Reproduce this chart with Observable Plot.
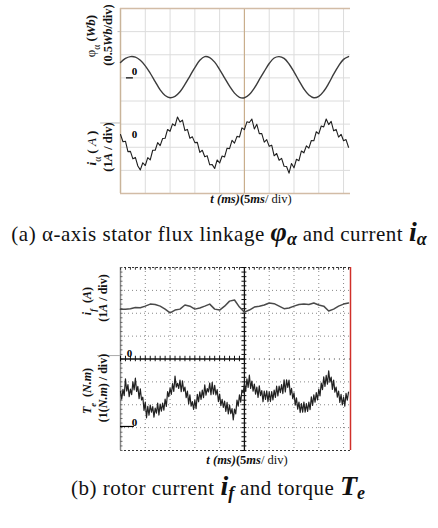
<!DOCTYPE html>
<html><head><meta charset="utf-8">
<script src="https://cdn.jsdelivr.net/npm/d3@7"></script>
<script src="https://cdn.jsdelivr.net/npm/@observablehq/plot@0.6"></script>
<style>
body{margin:0;background:#fff;}
#wrap{position:relative;width:438px;height:528px;overflow:hidden;font-family:"Liberation Serif","Times New Roman",serif;background:#fff;}
.panel{position:absolute;left:0;}
.cap{position:absolute;left:0;width:438px;text-align:center;font-size:21px;line-height:28px;color:#111;white-space:nowrap;letter-spacing:0.5px;}
.sym{font-weight:bold;font-style:italic;font-size:28px;letter-spacing:0;}
.sym sub{font-size:18px;vertical-align:-4px;}
</style></head><body><div id="wrap"></div>
<script>
// ---------- data ----------
// panel (a): time (ms) for flux samples, 1 ms step
const phiTime = [0,1,2,3,4,5,6,7,8,9,10,11,12,13,14,15,16,17,18,19,20,21,22,23,24,25,26,27,28,29,30,31,32,33,34,35,36,37,38,39,40,41,42,43,44,45,46];
// alpha-axis stator flux linkage (Wb)
const phiAlpha = [0.33,0.42,0.46,0.45,0.38,0.26,0.10,-0.08,-0.26,-0.38,-0.43,-0.40,-0.30,-0.14,0.04,0.22,0.38,0.46,0.44,0.34,0.18,0.00,-0.18,-0.33,-0.42,-0.43,-0.36,-0.22,-0.04,0.14,0.31,0.43,0.46,0.42,0.30,0.13,-0.06,-0.24,-0.37,-0.43,-0.40,-0.29,-0.12,0.08,0.26,0.40,0.46];
// time (ms) for the alpha current, 0.5 ms step
const iaTime = [0,0.5,1,1.5,2,2.5,3,3.5,4,4.5,5,5.5,6,6.5,7,7.5,8,8.5,9,9.5,10,10.5,11,11.5,12,12.5,13,13.5,14,14.5,15,15.5,16,16.5,17,17.5,18,18.5,19,19.5,20,20.5,21,21.5,22,22.5,23,23.5,24,24.5,25,25.5,26,26.5,27,27.5,28,28.5,29,29.5,30,30.5,31,31.5,32,32.5,33,33.5,34,34.5,35,35.5,36,36.5,37,37.5,38,38.5,39,39.5,40,40.5,41,41.5,42,42.5,43,43.5,44,44.5,45,45.5,46];
// alpha-axis stator current (A)
const iAlpha = [0.40,0.09,0.11,-0.34,-0.33,-0.65,-0.59,-0.96,-1.13,-0.82,-0.94,-0.60,-0.70,-0.28,-0.28,0.05,-0.08,0.23,0.24,0.62,0.54,0.86,0.78,1.16,0.94,1.02,0.57,0.62,0.24,0.30,0.05,0.06,-0.37,-0.28,-0.56,-0.52,-0.91,-0.90,-1.07,-0.70,-0.83,-0.53,-0.57,-0.19,-0.21,0.15,0.03,0.32,0.29,0.69,0.61,0.95,0.92,1.07,0.64,0.84,0.44,0.44,0.07,0.18,-0.11,-0.06,-0.52,-0.42,-0.71,-0.63,-0.97,-0.98,-1.27,-0.85,-1.04,-0.67,-0.73,-0.31,-0.39,-0.09,-0.19,0.14,0.13,0.52,0.43,0.77,0.73,1.07,0.83,0.97,0.56,0.62,0.29,0.41,0.13,0.18,-0.15];
// panel (b): rotor current (A), 1 ms step (same times as phiTime)
const iRotor = [2.17,2.18,2.20,2.25,2.24,2.31,2.40,2.38,2.31,2.18,2.02,2.14,2.18,2.36,2.31,2.18,2.23,2.31,2.40,2.18,2.14,2.31,2.53,2.58,2.27,2.05,2.14,2.27,2.31,2.36,2.45,2.42,2.31,2.20,2.23,2.31,2.38,2.40,2.38,2.45,2.36,2.31,2.10,2.18,2.31,2.40,2.45];
// time (ms) for the torque, 0.25 ms step
const teTime = [0,0.25,0.5,0.75,1,1.25,1.5,1.75,2,2.25,2.5,2.75,3,3.25,3.5,3.75,4,4.25,4.5,4.75,5,5.25,5.5,5.75,6,6.25,6.5,6.75,7,7.25,7.5,7.75,8,8.25,8.5,8.75,9,9.25,9.5,9.75,10,10.25,10.5,10.75,11,11.25,11.5,11.75,12,12.25,12.5,12.75,13,13.25,13.5,13.75,14,14.25,14.5,14.75,15,15.25,15.5,15.75,16,16.25,16.5,16.75,17,17.25,17.5,17.75,18,18.25,18.5,18.75,19,19.25,19.5,19.75,20,20.25,20.5,20.75,21,21.25,21.5,21.75,22,22.25,22.5,22.75,23,23.25,23.5,23.75,24,24.25,24.5,24.75,25,25.25,25.5,25.75,26,26.25,26.5,26.75,27,27.25,27.5,27.75,28,28.25,28.5,28.75,29,29.25,29.5,29.75,30,30.25,30.5,30.75,31,31.25,31.5,31.75,32,32.25,32.5,32.75,33,33.25,33.5,33.75,34,34.25,34.5,34.75,35,35.25,35.5,35.75,36,36.25,36.5,36.75,37,37.25,37.5,37.75,38,38.25,38.5,38.75,39,39.25,39.5,39.75,40,40.25,40.5,40.75,41,41.25,41.5,41.75,42,42.25,42.5,42.75,43,43.25,43.5,43.75,44,44.25,44.5,44.75,45,45.25,45.5,45.75,46];
// electromagnetic torque (N.m)
const torque = [1.57,1.25,1.67,1.40, 2.13,1.60,1.88,1.35, 1.68,1.44,2.00,1.65, 2.16,1.58,1.80,1.27, 1.69,1.21,1.33,0.75, 1.12,0.43,0.93,0.54, 0.99,0.68,0.92,0.46, 0.85,0.63,1.07,0.55, 1.03,0.72,1.07,0.76, 1.25,0.93,1.57,1.35, 1.73,1.45,1.92,1.58, 2.25,1.77,1.94,1.71, 2.08,1.57,2.05,1.59, 1.77,1.31,1.60,1.04, 1.43,0.94,1.14,0.80, 1.20,0.83,1.46,1.13, 1.56,1.23,1.64,1.31, 1.87,1.42,1.71,1.56, 1.95,1.44,1.98,1.46, 1.85,1.43,1.66,1.14, 1.47,0.96,1.24,0.88, 1.16,0.71,1.10,0.60, 0.99,0.61,0.83,0.34, 0.81,0.60,1.20,0.94, 1.43,1.11,1.64,1.52, 1.90,1.59,2.13,1.76, 2.30,1.71,2.03,1.59, 1.90,1.46,1.77,1.32, 1.83,1.40,1.62,1.13, 1.60,1.23,1.61,1.13, 1.56,1.14,1.58,1.21, 1.64,1.32,1.81,1.39, 1.82,1.53,1.88,1.49, 2.09,1.56,2.09,1.76, 2.08,1.43,1.72,1.27, 1.52,0.98,1.30,0.81, 1.12,0.66,1.05,0.68, 1.12,0.68,1.05,0.71, 1.12,0.79,1.35,0.97, 1.43,1.11,1.53,1.21, 1.68,1.39,1.95,1.66, 2.22,1.80,2.28,1.90, 2.48,1.99,2.21,1.67, 2.08,1.55,1.77,1.33, 1.60,1.10,1.45,0.99, 1.34,0.94,1.50,1.20, 1.55];
// scope graticule (ms per division = 5, 8 vertical divisions)
const xDivs = [0,5,10,15,20,25,30,35,40,45];
const yDivs = [0,1,2,3,4,5,6,7,8];

// channel placement on the screen (division of the zero line, units per division)
const phiZero = 5, phiScale = 0.5;
const iaZero = 2.15, iaScale = 1;
const ifZero = 4, ifScale = 1;
const teZero = 1, teScale = 1;
const tMax = 46.4;

const FONT = "Liberation Serif, Times New Roman, serif";
const wrap = document.getElementById("wrap");

function label(svg, x, y, parts, opts = {}) {
  const t = d3.select(svg).append("text")
    .attr("x", x).attr("y", y)
    .attr("text-anchor", opts.anchor || "middle")
    .attr("font-family", FONT)
    .attr("font-size", opts.size || 12)
    .attr("fill", "#111");
  if (opts.rotate) t.attr("transform", `rotate(-90 ${x} ${y})`);
  for (const [s, st] of parts) {
    const ts = t.append("tspan").text(s);
    if (st.includes("b")) ts.attr("font-weight", "bold");
    if (st.includes("i")) ts.attr("font-style", "italic");
    if (st.includes("s")) ts.attr("baseline-shift", "sub").attr("font-size", "0.72em");
  }
}

// ---------- panel (a) ----------
const phiRows = phiTime.map((t, i) => ({t, v: phiAlpha[i]}));
const iaRows = iaTime.map((t, i) => ({t, v: iAlpha[i]}));

const plotA = Plot.plot({
  width: 438, height: 215,
  marginLeft: 120, marginRight: 88, marginTop: 8, marginBottom: 22,
  style: {background: "transparent"},
  x: {domain: [0, tMax], axis: null},
  y: {domain: [0, 8], axis: null},
  marks: [
    Plot.ruleX(xDivs.filter(d => d > 0), {stroke: "#dcdcdc", strokeWidth: 1}),
    Plot.ruleY(yDivs.filter(d => d > 0 && d < 8), {stroke: "#dcdcdc", strokeWidth: 1}),
    Plot.ruleX([25], {stroke: "#c9ae8c", strokeWidth: 1.2}),
    Plot.ruleX([0], {stroke: "#c9b49a", strokeWidth: 1.5}),
    Plot.ruleY([0, 8], {stroke: "#d2bca6", strokeWidth: 1.5}),
    Plot.ruleY([7], {x1: -0.5, x2: 0, stroke: "#bbb"}),
    Plot.ruleY([3.05], {x1: -4, x2: 0, stroke: "#bbb"}),
    Plot.line(phiRows, {x: "t", y: d => phiZero + d.v / phiScale, curve: "catmull-rom", stroke: "#3c3c3c", strokeWidth: 1.4}),
    Plot.line(iaRows, {x: "t", y: d => iaZero + d.v / iaScale, stroke: "#1e1e1e", strokeWidth: 1.1}),
    Plot.ruleY([phiZero], {x1: 1.2, x2: 2.6, stroke: "#000", strokeWidth: 1.2}),
    Plot.text([phiZero], {x: 0, y: d => d, text: () => "0", dx: 14, dy: -6, fontWeight: "bold", fontSize: 11, fontFamily: FONT, fill: "#000"}),
    Plot.text([iaZero], {x: 0, y: d => d + 0.25, text: () => "0", dx: 14, dy: -4, fontWeight: "bold", fontSize: 11, fontFamily: FONT, fill: "#000"})
  ]
});
plotA.classList.add("panel");
plotA.style.top = "0px";
wrap.appendChild(plotA);
label(plotA, 95, 36, [["φ", ""], ["α", "s"], [" (", "b"], ["Wb", "bi"], [")", "b"]], {rotate: true, size: 13});
label(plotA, 112, 35, [["(0.5", "b"], ["Wb", "bi"], ["/div)", "b"]], {rotate: true, size: 12.5});
label(plotA, 96, 148, [["i", "bi"], ["α", "s"], [" ( ", "b"], ["A", "i"], [" )", "b"]], {rotate: true, size: 13});
label(plotA, 112, 147, [["(1", "b"], ["A", "bi"], [" / div)", "b"]], {rotate: true, size: 12.5});
label(plotA, 251, 203, [["t", "bi"], [" (ms)", "bi"], ["(5", "b"], ["ms", "bi"], ["/ div)", ""]], {size: 12.5});

const capA = document.createElement("div");
capA.className = "cap";
capA.style.top = "218px";
capA.innerHTML = '(a) α-axis stator flux linkage <span class="sym">φ<sub>α</sub></span> and current <span class="sym">i<sub>α</sub></span>';
wrap.appendChild(capA);

// ---------- panel (b) ----------
const ifRows = phiTime.map((t, i) => ({t, v: iRotor[i]}));
const teRows = teTime.map((t, i) => ({t, v: torque[i]}));
const minorX = d3.range(0, tMax, 1);
const minorY = d3.range(0, 8.01, 0.2);

const plotB = Plot.plot({
  width: 438, height: 215,
  marginLeft: 120, marginRight: 88, marginTop: 12, marginBottom: 20,
  style: {background: "transparent"},
  x: {domain: [0, tMax], axis: null},
  y: {domain: [0, 8], axis: null},
  marks: [
    Plot.ruleX(xDivs.filter(d => d > 0 && d !== 25), {stroke: "#888", strokeWidth: 1, strokeDasharray: "1,3"}),
    Plot.ruleY(yDivs.filter(d => d > 0 && d < 8 && d !== 4), {stroke: "#888", strokeWidth: 1, strokeDasharray: "1,3"}),
    Plot.ruleY([8, 0], {stroke: "#333", strokeWidth: 1, strokeDasharray: "2,2"}),
    Plot.ruleX([0], {stroke: "#888", strokeWidth: 1.5}),
    Plot.ruleX(minorX, {y1: 7.88, y2: 8, stroke: "#333"}),
    Plot.ruleY(minorY, {x1: 0, x2: 0.5, stroke: "#666"}),
    Plot.ruleY([4], {x1: 0, x2: 25, stroke: "#111", strokeWidth: 1.3}),
    Plot.ruleY([4], {x1: 25, x2: tMax, stroke: "#444", strokeWidth: 1, strokeDasharray: "1,4"}),
    Plot.ruleX(minorX.filter(d => d <= 25), {y1: 3.88, y2: 4.12, stroke: "#111"}),
    Plot.ruleX([25], {stroke: "#111", strokeWidth: 1.3}),
    Plot.ruleY(minorY, {x1: 24.5, x2: 25.5, stroke: "#111"}),
    Plot.ruleX([tMax], {stroke: "#d0302a", strokeWidth: 1.5}),
    Plot.ruleY([ifZero + 0.15], {x1: -4.6, x2: 0, stroke: "#aaa"}),
    Plot.line(ifRows, {x: "t", y: d => ifZero + d.v / ifScale, stroke: "#4a4a4a", strokeWidth: 1.5}),
    Plot.line(teRows, {x: "t", y: d => teZero + d.v / teScale, stroke: "#222", strokeWidth: 1.2}),
    Plot.ruleY([teZero + 0.05], {x1: 0, x2: 2.8, stroke: "#000", strokeWidth: 1.2}),
    Plot.text([ifZero], {x: 0, y: d => d, text: () => "0", dx: 9, dy: -6, fontWeight: "bold", fontSize: 11, fontFamily: FONT, fill: "#000"}),
    Plot.text([teZero], {x: 0, y: d => d, text: () => "0", dx: 14, dy: -5, fontWeight: "bold", fontSize: 11, fontFamily: FONT, fill: "#000"})
  ]
});
plotB.classList.add("panel");
plotB.style.top = "255px";
wrap.appendChild(plotB);
label(plotB, 91, 46, [["i", "bi"], ["f", "bis"], ["  (", "b"], ["A", "bi"], [")", "b"]], {rotate: true, size: 12});
label(plotB, 107, 43, [["(1", "b"], ["A", "bi"], [" / div)", "b"]], {rotate: true, size: 12});
label(plotB, 91, 136, [["T", "bi"], ["e", "bis"], ["  (", "b"], ["N.m", "bi"], [")", "b"]], {rotate: true, size: 12});
label(plotB, 107, 133, [["(1(", "b"], ["N.m", "bi"], [") / div)", "b"]], {rotate: true, size: 12});
label(plotB, 247, 209, [["t", "bi"], [" (ms)", "bi"], ["(5", "b"], ["ms", "bi"], ["/ div)", ""]], {size: 12.5});

const capB = document.createElement("div");
capB.className = "cap";
capB.style.top = "472px";
capB.style.left = "-1px";
capB.innerHTML = '(b) rotor current <span class="sym">i<sub>f</sub></span> and torque <span class="sym">T<sub>e</sub></span>';
wrap.appendChild(capB);
</script>
</body></html>
